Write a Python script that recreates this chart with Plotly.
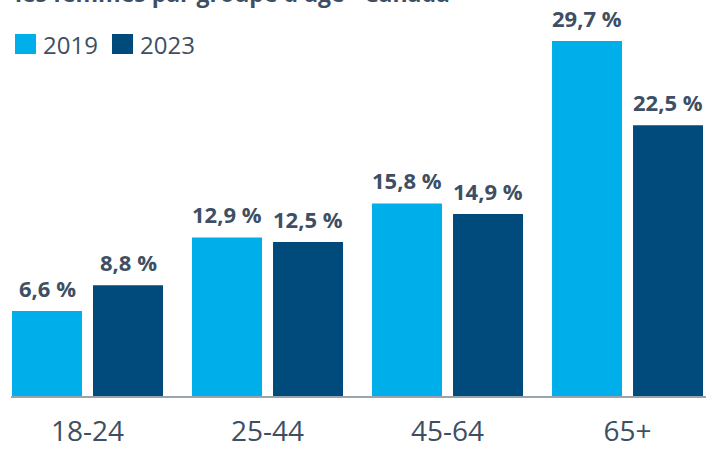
import plotly.graph_objects as go

# ---------------------------------------------------------------------------
# Data
# ---------------------------------------------------------------------------

age_groups = ["18-24", "25-44", "45-64", "65+"]
years = ["2019", "2023"]
rate_2019 = [6.6, 12.9, 15.8, 29.7]
rate_2023 = [8.8, 12.5, 14.9, 22.5]

title_text = "les femmes par groupe d'âge - Canada"

# ---------------------------------------------------------------------------
# Style
# ---------------------------------------------------------------------------

COLORS = {
    "light": "#00AEEA",
    "dark": "#004A7C",
    "text": "#3E4F63",
    "axis": "#9AA4AF",
}
FONT = "Open Sans, Noto Sans, sans-serif"

W, H = 718, 449
M_L, M_R, M_T, M_B = 11, 12, 30, 53
PLOT_W = W - M_L - M_R
PLOT_H = H - M_T - M_B

# value axis starts a little below zero; bars rise from the axis line
Y_MIN, Y_MAX = -0.667, 30.64
BAR_SHIFT = 40.5  # px from group centre to each bar centre


def px_x(x):
    """Pixel x -> paper coordinate."""
    return (x - M_L) / PLOT_W


def px_y(y):
    """Pixel y (from top) -> paper coordinate."""
    return (H - M_B - y) / PLOT_H


def fmt_pct(v):
    return f"{v:.1f}".replace(".", ",") + " %"


fig = go.Figure()
annotations = []

series = [
    (years[0], rate_2019, COLORS["light"], -BAR_SHIFT),
    (years[1], rate_2023, COLORS["dark"], BAR_SHIFT),
]
for name, vals, col, shift in series:
    fig.add_trace(go.Bar(
        x=age_groups,
        y=[v - Y_MIN for v in vals],
        base=Y_MIN,
        name=name,
        marker=dict(color=col, line=dict(width=0)),
        hoverinfo="skip",
    ))
    # value labels above each bar
    for cat, v in zip(age_groups, vals):
        annotations.append(dict(
            x=cat, y=v, xref="x", yref="y",
            text=f"<b>{fmt_pct(v)}</b>",
            showarrow=False, xanchor="center", yanchor="bottom",
            xshift=shift, yshift=6,
            font=dict(family=FONT, size=22, color=COLORS["text"]),
        ))

# Manual legend (large square swatches)
shapes = []
legend_items = [
    (years[0], COLORS["light"], 15, 43),
    (years[1], COLORS["dark"], 112, 140),
]
for label, col, sx, tx in legend_items:
    shapes.append(dict(
        type="rect", xref="paper", yref="paper",
        x0=px_x(sx), x1=px_x(sx + 21), y0=px_y(54), y1=px_y(34),
        fillcolor=col, line=dict(width=0), layer="above",
    ))
    annotations.append(dict(
        text=label, xref="paper", yref="paper",
        x=px_x(tx - 2), y=px_y(44.5), xanchor="left", yanchor="middle",
        showarrow=False,
        font=dict(family=FONT, size=24, color=COLORS["text"]),
    ))

# Title (top line of the original cut off by the frame)
annotations.append(dict(
    text=f"<b>{title_text}</b>", xref="paper", yref="paper",
    x=px_x(13), y=px_y(11), xanchor="left", yanchor="bottom",
    showarrow=False,
    font=dict(family=FONT, size=23, color=COLORS["text"]),
))

fig.update_layout(
    width=W,
    height=H,
    margin=dict(l=M_L, r=M_R, t=M_T, b=M_B, pad=0, autoexpand=False),
    paper_bgcolor="white",
    plot_bgcolor="white",
    barmode="group",
    bargap=0.1,
    bargroupgap=0.136,
    showlegend=False,
    xaxis=dict(
        range=[-0.425, 3.436],
        automargin=False,
        showline=True,
        linecolor=COLORS["axis"],
        linewidth=2,
        showgrid=False,
        zeroline=False,
        ticks="",
        tickfont=dict(family=FONT, size=28, color=COLORS["text"]),
        ticklabelstandoff=9,
    ),
    yaxis=dict(
        range=[Y_MIN, Y_MAX],
        automargin=False,
        visible=False,
        showgrid=False,
        zeroline=False,
    ),
    shapes=shapes,
    annotations=annotations,
)

# page body has a default 8px margin; drop it so the figure fills the window
fig.write_html(
    "out.html",
    config={"displayModeBar": False},
    post_script="document.body.style.margin='0';",
)
